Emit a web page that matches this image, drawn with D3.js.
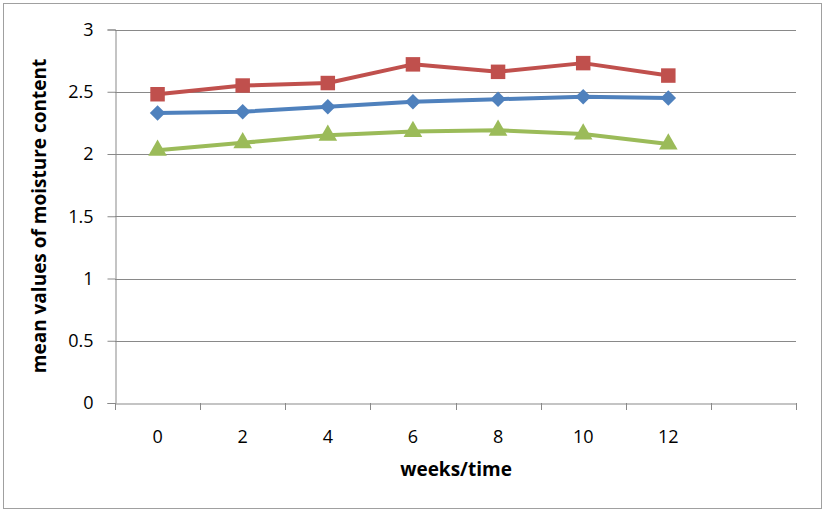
<!DOCTYPE html>
<html><head><meta charset="utf-8">
<script src="https://cdn.jsdelivr.net/npm/d3@7/dist/d3.min.js"></script>
<style>body{margin:0;background:#fff}svg{display:block}</style>
</head><body>
<svg id="c" width="827" height="513"></svg>
<script>
const categories = ["0","2","4","6","8","10","12",""];
const seriesRed = [2.48, 2.55, 2.57, 2.72, 2.66, 2.73, 2.63];
const seriesBlue = [2.33, 2.34, 2.38, 2.42, 2.44, 2.46, 2.45];
const seriesGreen = [2.03, 2.09, 2.15, 2.18, 2.19, 2.16, 2.08];
const yTicks = [0, 0.5, 1, 1.5, 2, 2.5, 3];

const svg = d3.select("#c");
const font = "'Open Sans', 'Liberation Sans', sans-serif";
svg.append("rect").attr("x",3.5).attr("y",3.5).attr("width",818).attr("height",505)
  .attr("fill","#fff").attr("stroke","#a0a0a0").attr("stroke-width",1);

const L=115, R=796, T=29.5, B=403;
const x = d3.scaleBand().domain(categories.map((c,i)=>i)).range([L,R]);
const y = d3.scaleLinear().domain([0,3]).range([B,T]);
const grid = "#898989";

svg.append("g").selectAll("line").data(yTicks.filter(t=>t>0)).join("line")
  .attr("x1",L).attr("x2",R).attr("y1",d=>Math.round(y(d))+0.5).attr("y2",d=>Math.round(y(d))+0.5)
  .attr("stroke",grid).attr("stroke-width",1);

const ya = svg.append("g").attr("transform",`translate(${L+0.5},0)`)
  .call(d3.axisLeft(y).tickValues(yTicks).tickSize(8).tickPadding(14).tickFormat(d3.format("")));
ya.select(".domain").attr("stroke",grid);
ya.selectAll(".tick line").attr("stroke",grid);
ya.selectAll("text").attr("font-family",font).attr("font-size",18).attr("fill","#000");

const xa = svg.append("g").attr("transform",`translate(0,${Math.round(B)+0.5})`)
  .call(d3.axisBottom(x).tickSize(0).tickPadding(27).tickFormat(i=>categories[i]));
xa.select(".domain").attr("stroke",grid);
xa.selectAll("text").attr("font-family",font).attr("font-size",18).attr("fill","#000");
svg.append("g").selectAll("line").data(d3.range(categories.length+1)).join("line")
  .attr("x1",i=>Math.round(L+i*x.step())+0.5).attr("x2",i=>Math.round(L+i*x.step())+0.5)
  .attr("y1",B).attr("y2",B+7).attr("stroke",grid);

svg.append("text").attr("x",456).attr("y",476).attr("text-anchor","middle")
  .attr("font-family",font).attr("font-size",19).attr("font-weight","bold").text("weeks/time");
svg.append("text").attr("transform","translate(46,216) rotate(-90)").attr("text-anchor","middle")
  .attr("font-family",font).attr("font-size",19).attr("font-weight","bold").text("mean values of moisture content");

const cx = i => x(i) + x.bandwidth()/2;
const line = d3.line().x((d,i)=>cx(i)).y(d=>y(d));
const series = [
  {v:seriesBlue, c:"#4F81BD", m:"diamond"},
  {v:seriesRed, c:"#C0504D", m:"square"},
  {v:seriesGreen, c:"#9BBB59", m:"triangle"}
];
const sym = {diamond:d3.symbolSquare, square:d3.symbolSquare, triangle:d3.symbolTriangle};
const size = {diamond:120, square:210, triangle:150};
const rot = {diamond:45, square:0, triangle:0};
series.forEach(s=>{
  svg.append("path").datum(s.v).attr("d",line).attr("fill","none")
    .attr("stroke",s.c).attr("stroke-width",4).attr("stroke-linejoin","round");
  svg.append("g").selectAll("path").data(s.v).join("path")
    .attr("transform",(d,i)=>`translate(${cx(i)},${y(d)}) rotate(${rot[s.m]})`)
    .attr("d",d3.symbol().type(sym[s.m]).size(size[s.m])).attr("fill",s.c);
});
</script>
</body></html>
